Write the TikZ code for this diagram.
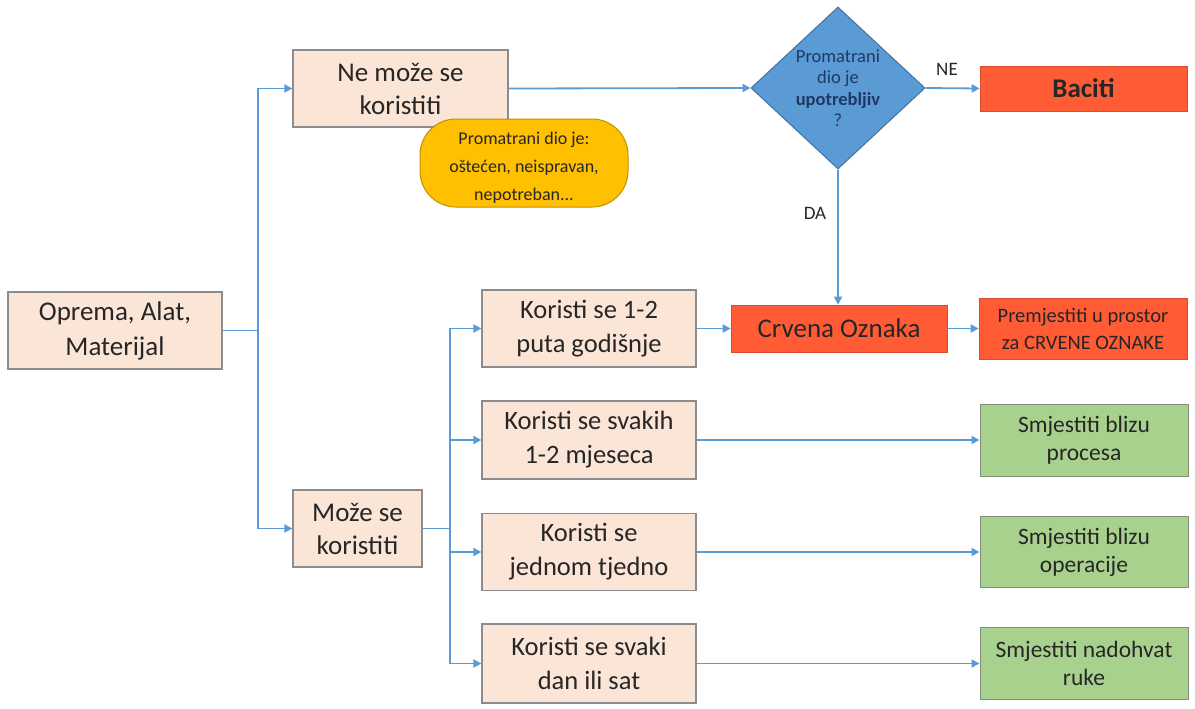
\documentclass[tikz,border=0pt]{standalone}
\usepackage{fontspec}
\setmainfont{Carlito}
\usetikzlibrary{shapes.geometric,arrows.meta}
\definecolor{peach}{HTML}{FBE5D6}
\definecolor{peachline}{HTML}{8C8C8C}
\definecolor{redbox}{HTML}{FF5B35}
\definecolor{greenbox}{HTML}{A9D18E}
\definecolor{greenline}{HTML}{7F8F78}
\definecolor{bluedia}{HTML}{5B9BD5}
\definecolor{bluedialine}{HTML}{41719C}
\definecolor{arrowblue}{HTML}{5B9BD5}
\definecolor{notefill}{HTML}{FFC000}
\definecolor{noteline}{HTML}{BF9000}
\definecolor{txt}{HTML}{262626}
\definecolor{diatxt}{HTML}{1F3864}
\tikzset{
  peachbox/.style={draw=peachline, line width=1.2pt, fill=peach, align=center, text=txt, inner sep=0pt},
  redbx/.style={fill=redbox, draw=redbox!85!black, line width=0.6pt, align=center, inner sep=0pt, text=black!85},
  greenbx/.style={fill=greenbox, draw=greenline, line width=1pt, align=center, inner sep=0pt, text=txt},
  conn/.style={draw=arrowblue, line width=1.8pt},
  arr/.style={conn, -{Triangle[length=8pt,width=8pt]}},
  lbl/.style={text=txt, font=\fontsize{19}{21}\selectfont}
}
\begin{document}
\begin{tikzpicture}[x=1pt,y=-1pt]
\path[use as bounding box, fill=white] (0,0) rectangle (1195,709);

% left column
\node[peachbox, minimum width=214pt, minimum height=77pt, font=\fontsize{27}{35}\selectfont] (opr) at (115,330.5) {Oprema, Alat,\\Materijal};
\node[peachbox, minimum width=215pt, minimum height=77pt, font=\fontsize{27}{33}\selectfont] (ne) at (400.5,88.5) {Ne može se\\koristiti};
\node[peachbox, minimum width=129pt, minimum height=77pt, font=\fontsize{27}{33}\selectfont] (moze) at (357.5,528.5) {Može se\\koristiti};

% middle column
\node[peachbox, minimum width=214pt, minimum height=77pt, font=\fontsize{26.5}{34}\selectfont] (k1) at (589,328.5) {Koristi se 1-2\\puta godišnje};
\node[peachbox, minimum width=214pt, minimum height=78pt, font=\fontsize{26.5}{34}\selectfont] (k2) at (589,440) {Koristi se svakih\\1-2 mjeseca};
\node[peachbox, minimum width=214pt, minimum height=77pt, font=\fontsize{26.5}{34}\selectfont] (k3) at (589,552) {Koristi se\\jednom tjedno};
\node[peachbox, minimum width=214pt, minimum height=79pt, font=\fontsize{26.5}{34}\selectfont] (k4) at (589,663.5) {Koristi se svaki\\dan ili sat};

% note
\node[fill=notefill, draw=noteline, line width=1pt, rounded corners=36pt, minimum width=208pt, minimum height=88pt, inner sep=0pt] (note) at (524,163) {};
\node[align=center, text=black!85, font=\fontsize{18}{28}\selectfont, inner sep=0pt] (notetxt) at (524,168) {Promatrani dio je:\\oštećen, neispravan,\\nepotreban...};

% diamond
\node[diamond, fill=bluedia, draw=bluedialine, line width=1pt, minimum width=174pt, minimum height=162pt, inner sep=0pt, align=center, text=diatxt, font=\fontsize{18.5}{21.5}\selectfont] (dia) at (838,88) {Promatrani\\dio je\\\textbf{upotrebljiv}\\?};

% red boxes
\node[redbx, minimum width=207pt, minimum height=45pt, font=\fontsize{27}{30}\bfseries\selectfont] (bac) at (1083.5,88.5) {Baciti};
\node[redbx, minimum width=216pt, minimum height=47pt, font=\fontsize{27}{30}\selectfont] (crv) at (839,328.5) {Crvena Oznaka};
\node[redbx, minimum width=208pt, minimum height=61pt, font=\fontsize{20.5}{27}\selectfont] (prem) at (1083,328.5) {Premjestiti u prostor\\za CRVENE OZNAKE};

% green boxes
\node[greenbx, minimum width=208pt, minimum height=72pt, font=\fontsize{23.5}{28}\selectfont] (g1) at (1084,440) {Smjestiti blizu\\procesa};
\node[greenbx, minimum width=208pt, minimum height=71pt, font=\fontsize{23.5}{28}\selectfont] (g2) at (1084,552) {Smjestiti blizu\\operacije};
\node[greenbx, minimum width=208pt, minimum height=72pt, font=\fontsize{23.5}{28}\selectfont] (g3) at (1084,663.5) {Smjestiti nadohvat\\ruke};

% junctions
\coordinate (j1) at (258,330.5);
\coordinate (j2) at (450,528.5);

% connectors
\draw[conn] (opr.east) -- (j1);
\draw[arr] (j1) |- (ne.west);
\draw[arr] (j1) |- (moze.west);
\draw[conn] (moze.east) -- (j2);
\draw[arr] (j2) |- (k1.west);
\draw[arr] (j2) |- (k2.west);
\draw[arr] (j2) |- (k3.west);
\draw[arr] (j2) |- (k4.west);
\draw[arr] (k1.east) -- (crv.west);
\draw[arr] (crv.east) -- (prem.west);
\draw[arr] (k2.east) -- (g1.west);
\draw[arr] (k3.east) -- (g2.west);
\draw[arr] (k4.east) -- (g3.west);
\draw[arr] (ne.east) -- (dia.west);
\draw[arr] (dia.east) -- (bac.west);
\draw[arr] (dia.south) -- (dia.south |- crv.north);

% labels
\node[lbl] (lne) at (947,69) {NE};
\node[lbl] (lda) at (815,213) {DA};
\end{tikzpicture}
\end{document}
